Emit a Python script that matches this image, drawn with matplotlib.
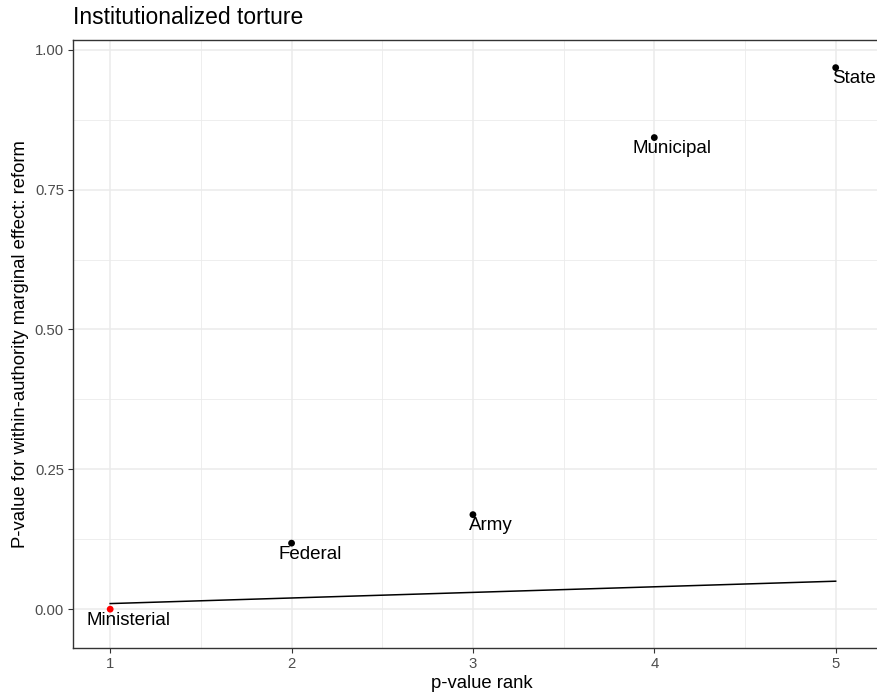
import matplotlib
matplotlib.use("Agg")
import matplotlib.pyplot as plt
import numpy as np

plt.rcParams['font.family'] = ['Liberation Sans', 'DejaVu Sans']

authorities = ["Ministerial", "Federal", "Army", "Municipal", "State"]
ranks = [1, 2, 3, 4, 5]
pvalues = [0.0, 0.118, 0.169, 0.843, 0.968]
point_colors = ["red", "black", "black", "black", "black"]
threshold = [0.01, 0.02, 0.03, 0.04, 0.05]
x_ticks = [1, 2, 3, 4, 5]
y_ticks = [0.00, 0.25, 0.50, 0.75, 1.00]
y_tick_labels = ["0.00", "0.25", "0.50", "0.75", "1.00"]

W, H = 878, 698
fig = plt.figure(figsize=(W / 100, H / 100), dpi=100)
left, right, top, bottom = 73, 891, 40, 648
ax = fig.add_axes([left / W, (H - bottom) / H, (right - left) / W, (bottom - top) / H])

ax.set_xlim(0.795, 5.305)
ax.set_ylim(-0.0694, 1.0174)

grid_c = "#EBEBEB"
for v in [1.5, 2.5, 3.5, 4.5]:
    ax.axvline(v, color=grid_c, lw=0.6, zorder=0)
for v in [0.125, 0.375, 0.625, 0.875]:
    ax.axhline(v, color=grid_c, lw=0.6, zorder=0)
for v in x_ticks:
    ax.axvline(v, color=grid_c, lw=1.1, zorder=0)
for v in y_ticks:
    ax.axhline(v, color=grid_c, lw=1.1, zorder=0)

ax.plot(ranks, threshold, color="black", lw=1.1, zorder=2)
ax.scatter(ranks, pvalues, c=point_colors, s=24, zorder=3, linewidths=0)
for r, p, name in zip(ranks, pvalues, authorities):
    ax.text(r + 0.1, p - 0.02, name, ha="center", va="center", fontsize=13.5,
            color="black", zorder=4)

ax.set_xticks(x_ticks)
ax.set_xticklabels([str(t) for t in x_ticks])
ax.set_yticks(y_ticks)
ax.set_yticklabels(y_tick_labels)
ax.tick_params(axis="both", colors="#333333", labelcolor="#4D4D4D", labelsize=10.7,
               length=3.5, width=0.8, pad=3)
for s in ax.spines.values():
    s.set_color("#333333")
    s.set_linewidth(1.0)

ax.set_xlabel("p-value rank", fontsize=13.3, color="black", labelpad=3)
ax.set_ylabel("P-value for within-authority marginal effect: reform", fontsize=13.3,
              color="black", labelpad=4)
fig.text(left / W, 1 - 17 / H, "Institutionalized torture", fontsize=16.5,
         ha="left", va="center", color="black")

fig.savefig("out.png", dpi=100)
